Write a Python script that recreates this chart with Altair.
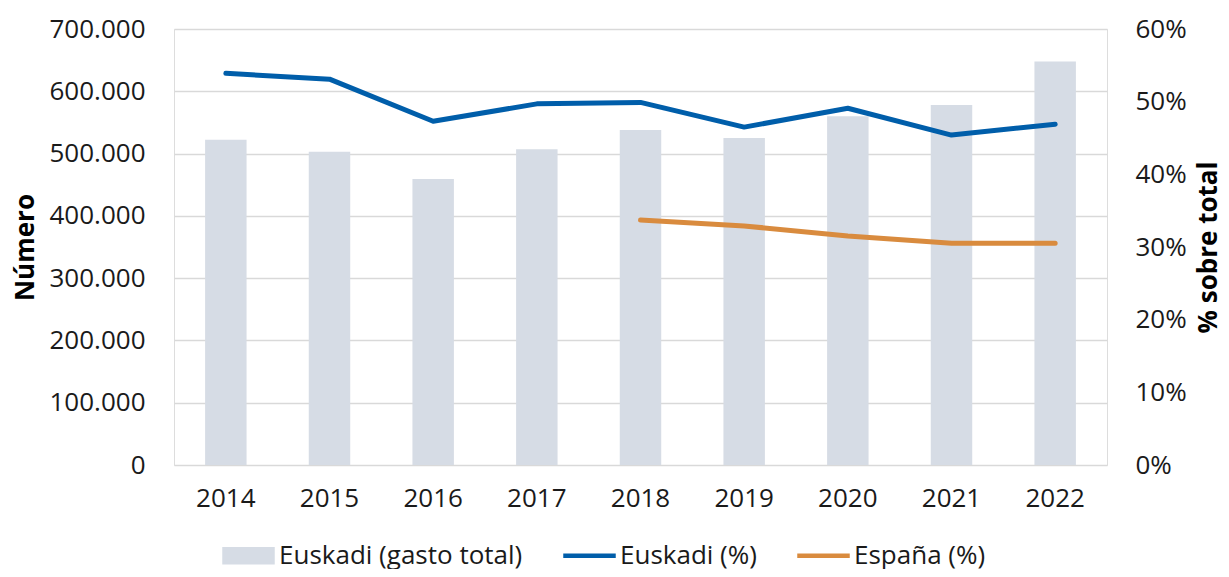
import altair as alt
import pandas as pd

years = ["2014", "2015", "2016", "2017", "2018", "2019", "2020", "2021", "2022"]
gasto_total = [522000, 503000, 459000, 507000, 538000, 525000, 560000, 578000, 648000]
euskadi_pct = [53.9, 53.1, 47.3, 49.7, 49.9, 46.5, 49.1, 45.4, 46.9]
espana_pct = [None, None, None, None, 33.7, 32.9, 31.5, 30.5, 30.5]

series = ["Euskadi (gasto total)", "Euskadi (%)", "España (%)"]
colors = ["#D6DCE5", "#005EAA", "#D98B3E"]

FONT = "Open Sans"
FS = 26

bars_df = pd.DataFrame({"year": years, "gasto": gasto_total, "serie": series[0]})
lines_df = pd.concat([
    pd.DataFrame({"year": years, "pct": euskadi_pct, "serie": series[1]}),
    pd.DataFrame({"year": years, "pct": espana_pct, "serie": series[2]}),
]).dropna()

xenc = alt.X("year:N", sort=years,
             scale=alt.Scale(paddingInner=0.6, paddingOuter=0.3),
             axis=alt.Axis(title=None, labelAngle=0, ticks=False, domain=False,
                           labelPadding=20, labelFontSize=FS, labelFont=FONT,
                           labelColor="#1a1a1a"))

yleft = alt.Y("gasto:Q", scale=alt.Scale(domain=[0, 700000]),
              axis=alt.Axis(title="Número", values=[0, 100000, 200000, 300000, 400000, 500000, 600000, 700000],
                            labelExpr="datum.value == 0 ? '0' : format(datum.value/1000, 'd') + '.000'",
                            ticks=False, domain=False, grid=True, gridColor="#D9D9D9", gridWidth=1.5,
                            labelPadding=29, labelFontSize=FS, labelFont=FONT, labelColor="#1a1a1a",
                            titleFont=FONT, titleFontSize=FS, titleFontWeight="bold",
                            titleColor="#000000", titlePadding=10))

bars = alt.Chart(bars_df).mark_bar(color=colors[0]).encode(x=xenc, y=yleft)

rect_path = "M-1,-0.33H1V0.33H-1Z"
line_path = "M-1,-0.09H1V0.09H-1Z"
legend = alt.Legend(title=None, orient="none", legendX=48, legendY=500, direction="horizontal",
                    labelFontSize=FS, labelFont=FONT, labelColor="#1a1a1a",
                    symbolSize=2756, symbolOpacity=1, symbolStrokeWidth=0,
                    columnPadding=40, labelOffset=4, labelLimit=400)

legend_pts = alt.Chart(bars_df).mark_point(filled=True, opacity=0).encode(
    x=alt.X("year:N", sort=years),
    y=alt.Y("gasto:Q"),
    color=alt.Color("serie:N", scale=alt.Scale(domain=series, range=colors), legend=legend),
    shape=alt.Shape("serie:N", scale=alt.Scale(domain=series, range=[rect_path, line_path, line_path]),
                    legend=legend),
)

left = alt.layer(bars, legend_pts)

yright = alt.Y("pct:Q", scale=alt.Scale(domain=[0, 60]),
               axis=alt.Axis(title="% sobre total", orient="right", values=[0, 10, 20, 30, 40, 50, 60],
                             labelExpr="datum.value + '%'", ticks=False, domain=False, grid=False,
                             labelPadding=28, labelFontSize=FS, labelFont=FONT, labelColor="#1a1a1a",
                             titleFont=FONT, titleFontSize=FS, titleFontWeight="bold",
                             titleColor="#000000", titleAngle=270, titlePadding=35))

lines = alt.Chart(lines_df).mark_line(strokeWidth=5, strokeCap="round", strokeJoin="round").encode(
    x=alt.X("year:N", sort=years),
    y=yright,
    color=alt.Color("serie:N", scale=alt.Scale(domain=series, range=colors), legend=None),
    detail="serie:N",
)

chart = alt.layer(left, lines).resolve_scale(y="independent").properties(
    width=933, height=436,
    autosize=alt.AutoSizeParams(type="none"),
    padding={"top": 21, "left": 166, "right": 114, "bottom": 104},
).configure_view(stroke=None).configure(background="white")

chart.save("out.html", embed_options={"renderer": "svg", "actions": False})
